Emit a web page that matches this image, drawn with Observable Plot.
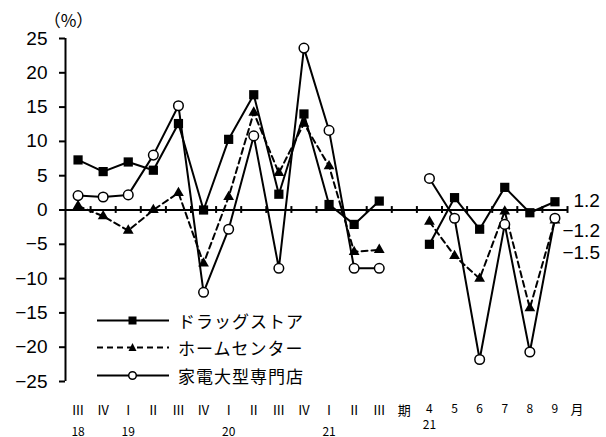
<!DOCTYPE html>
<html><head><meta charset="utf-8">
<script src="https://cdn.jsdelivr.net/npm/d3@7"></script>
<script src="https://cdn.jsdelivr.net/npm/@observablehq/plot@0.6"></script>
<style>
html,body{margin:0;padding:0;background:#fff;}
#wrap{position:relative;width:606px;height:437px;overflow:hidden;}
#wrap svg{display:block;}
g[aria-label^="y-axis"] line, g[aria-label^="y-axis"] path{stroke-width:2px;}
#legend{position:absolute;left:97px;top:0;font-family:"Noto Sans CJK JP";font-size:17px;letter-spacing:1px;color:#000;}
.lrow{position:absolute;left:0;height:24px;display:flex;align-items:center;white-space:nowrap;}
.lrow svg{margin-right:9px;}
</style></head>
<body><div id="wrap"><div id="legend"></div></div>
<script>
// ---- data ----
const quarterLabels = ["Ⅲ","Ⅳ","Ⅰ","Ⅱ","Ⅲ","Ⅳ","Ⅰ","Ⅱ","Ⅲ","Ⅳ","Ⅰ","Ⅱ","Ⅲ"];
const gapLabel = "期";
const monthLabels = ["4","5","6","7","8","9"];
const monthUnit = "月";
const quarterYears = [["18",0],["19",2],["20",6],["21",10]];
const monthYears = [["21",0]];
const seriesNames = ["ドラッグストア","ホームセンター","家電大型専門店"];

const drugQ  = [7.3, 5.6, 7.0, 5.8, 12.6, 0.0, 10.3, 16.8, 2.3, 14.0, 0.8, -2.1, 1.3];
const drugM  = [-5.0, 1.8, -2.8, 3.3, -0.4, 1.2];
const homeQ  = [0.6, -0.9, -3.0, 0.0, 2.5, -7.8, 1.9, 14.2, 5.4, 12.6, 6.4, -6.1, -5.8];
const homeM  = [-1.7, -6.7, -10.0, -0.2, -14.3, -1.5];
const elecQ  = [2.1, 1.9, 2.2, 8.0, 15.2, -12.0, -2.8, 10.8, -8.5, 23.6, 11.6, -8.5, -8.5];
const elecM  = [4.6, -1.2, -21.8, -2.1, -20.7, -1.2];
const endLabels = ["1.2","−1.2","−1.5"];
const yTicks = d3.range(-25, 26, 5);

// ---- build ----
const periodLabels = [...quarterLabels, gapLabel, ...monthLabels];
const monthStart = quarterLabels.length + 1;
function rowsFor(name, q, m) {
  return [
    ...q.map((v, i) => ({series: name, seg: "q", x: i, y: v})),
    ...m.map((v, j) => ({series: name, seg: "m", x: monthStart + j, y: v}))
  ];
}
const series = [
  {name: seriesNames[0], rows: rowsFor(seriesNames[0], drugQ, drugM), dash: null, symbol: "square", r: 5.2, fill: "black"},
  {name: seriesNames[1], rows: rowsFor(seriesNames[1], homeQ, homeM), dash: "6,4", symbol: "triangle", r: 4, fill: "black"},
  {name: seriesNames[2], rows: rowsFor(seriesNames[2], elecQ, elecM), dash: null, symbol: "circle", r: 4.8, fill: "white"}
];
const n = periodLabels.length;
const xDomain = [-0.5, n - 0.5];
const boundaries = d3.range(0.5, n, 1);
const labelRows = periodLabels.map((t, i) => ({t, i}));
const yearRows = quarterYears.map(([t, i]) => ({t, i}));
const monthYearRows = monthYears.map(([t, j]) => ({t, i: monthStart + j}));
const lastOf = s => s.rows[s.rows.length - 1];

const marks = [
  Plot.ruleY([0], {stroke: "black", strokeWidth: 2}),
  Plot.ruleX([xDomain[0]], {y1: yTicks[0], y2: yTicks[yTicks.length - 1], stroke: "black", strokeWidth: 2}),
  Plot.ruleX(boundaries, {x: d => d, y1: -0.5, y2: 0.5, stroke: "black", strokeWidth: 2})
];
for (const s of series) {
  marks.push(Plot.line(s.rows, {x: "x", y: "y", z: "seg", stroke: "black", strokeWidth: 2, strokeDasharray: s.dash || undefined}));
}
for (const s of series) {
  marks.push(Plot.dot(s.rows, {x: "x", y: "y", symbol: () => s.symbol, r: s.r, fill: s.fill, stroke: "black", strokeWidth: s.fill === "white" ? 1.5 : 0}));
}
const endDy = [-1, 11, 35];
series.forEach((s, k) => {
  const last = lastOf(s);
  marks.push(Plot.text([{t: endLabels[k], x: last.x, y: last.y}], {x: "x", y: "y", text: "t", textAnchor: "end", dx: 45, dy: endDy[k], fontSize: 19, fontFamily: "Liberation Sans", fill: "black"}));
});
const quarterRows = labelRows.filter(d => d.i < monthStart);
const monthRows = labelRows.filter(d => d.i >= monthStart);
marks.push(
  Plot.text(quarterRows, {x: "i", text: "t", frameAnchor: "bottom", dy: 33, fontSize: 13, fontFamily: "Noto Sans CJK JP", fill: "black"}),
  Plot.text(monthRows, {x: "i", text: "t", frameAnchor: "bottom", dy: 31, fontSize: 12, fontFamily: "Noto Sans CJK JP", fill: "black"}),
  Plot.text([{t: monthUnit, i: n - 1}], {x: "i", text: "t", frameAnchor: "bottom", dy: 32, dx: 22, fontSize: 13, fontFamily: "Noto Sans CJK JP", fill: "black"}),
  Plot.text(yearRows, {x: "i", text: "t", frameAnchor: "bottom", dy: 54, fontSize: 12, fontFamily: "Noto Sans CJK JP", fill: "black"}),
  Plot.text(monthYearRows, {x: "i", text: "t", frameAnchor: "bottom", dy: 47, fontSize: 12, fontFamily: "Noto Sans CJK JP", fill: "black"}),
  Plot.text(["（%）"], {frameAnchor: "top-left", text: d => d, textAnchor: "middle", lineAnchor: "middle", dx: 3, dy: -17, fontSize: 17, fontFamily: "Noto Sans CJK JP", fill: "black"})
);

const chart = Plot.plot({
  width: 606, height: 437,
  marginLeft: 65, marginRight: 39, marginTop: 38, marginBottom: 56,
  style: {fontFamily: "Liberation Sans", fontSize: "19px", color: "black", background: "white", overflow: "visible"},
  x: {domain: xDomain, axis: null},
  y: {domain: [yTicks[0], yTicks[yTicks.length - 1]], ticks: yTicks, tickSize: 6, tickPadding: 12, label: null},
  marks
});
const wrap = document.getElementById("wrap");
wrap.insertBefore(chart, wrap.firstChild);

// legend overlay
const legend = document.getElementById("legend");
const rowCenters = [320, 347.5, 375];
series.forEach((s, k) => {
  const row = document.createElement("div");
  row.className = "lrow";
  row.style.top = (rowCenters[k] - 12) + "px";
  let sym = "";
  if (s.symbol === "square") sym = `<rect x="31.5" y="3.5" width="8" height="8" fill="black"/>`;
  else if (s.symbol === "triangle") sym = `<polygon points="35.5,3 39.5,11 31.5,11" fill="black"/>`;
  else sym = `<circle cx="35.5" cy="7.5" r="3.8" fill="white" stroke="black" stroke-width="1.5"/>`;
  row.innerHTML = `<svg width="72" height="15"><line x1="0" x2="72" y1="7.5" y2="7.5" stroke="black" stroke-width="2" ${s.dash ? `stroke-dasharray="${s.dash}"` : ""}/>${sym}</svg><span>${s.name}</span>`;
  legend.appendChild(row);
});
</script>
</body></html>
